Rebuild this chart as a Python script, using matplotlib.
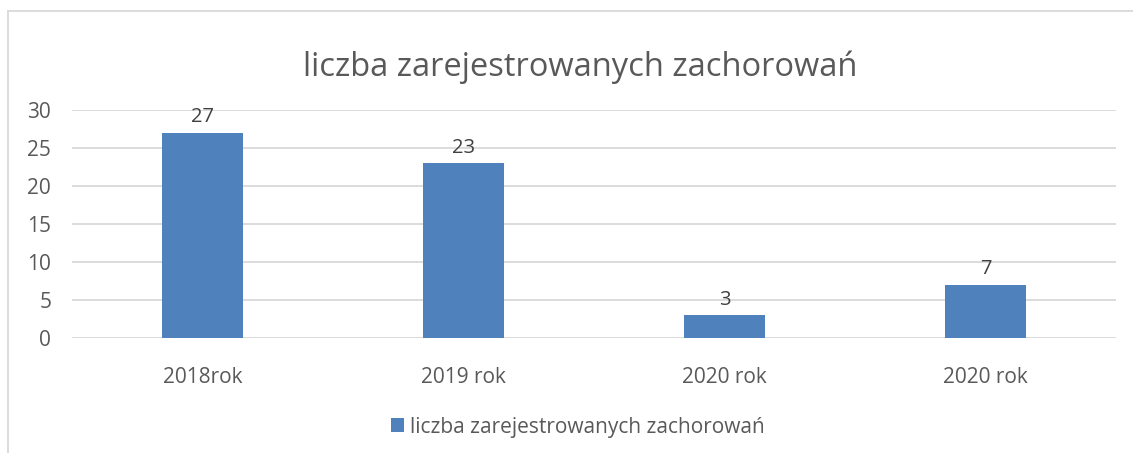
import matplotlib.pyplot as plt
from matplotlib.lines import Line2D

categories = ['2018rok', '2019 rok', '2020 rok', '2020 rok']
values = [27, 23, 3, 7]
series_name = 'liczba zarejestrowanych zachorowań'
yticks = [0, 5, 10, 15, 20, 25, 30]

plt.rcParams['font.family'] = ['Open Sans', 'DejaVu Sans']
text_col = '#595959'
bar_col = '#4F81BD'

fig = plt.figure(figsize=(11.33, 4.53), dpi=100)
ax = fig.add_axes([72 / 1133, 1 - 338 / 453, (1116 - 72) / 1133, (338 - 110) / 453])

x = range(len(categories))
bars = ax.bar(x, values, width=0.314, color=bar_col, label=series_name, zorder=3)
for b, v in zip(bars, values):
    ax.annotate(str(v), (b.get_x() + b.get_width() / 2, v), xytext=(0, 4),
                textcoords='offset points', ha='center', va='bottom',
                fontsize=14.5, color='#404040')

ax.set_xlim(-0.5, len(categories) - 0.5)
ax.set_ylim(0, 30)
ax.set_yticks(yticks)
ax.set_xticks(list(x))
ax.set_xticklabels(categories)
ax.tick_params(axis='both', length=0, labelsize=15, labelcolor=text_col)
ax.tick_params(axis='x', pad=21)
ax.tick_params(axis='y', pad=15)
for lab in ax.get_yticklabels():
    lab.set_horizontalalignment('right')
ax.grid(axis='y', color='#d9d9d9', linewidth=1.3, zorder=0)
for s in ax.spines.values():
    s.set_visible(False)

fig.text(0.512, 1 - 67 / 453, series_name, ha='center', va='center',
         fontsize=23.5, color=text_col)

leg = fig.legend(handles=[bars], labels=[series_name], loc='center',
                 bbox_to_anchor=(0.51, 1 - 427 / 453), frameon=False,
                 fontsize=15, handlelength=0.65, handleheight=0.65,
                 handletextpad=0.3)
for t in leg.get_texts():
    t.set_color(text_col)

# chart border (left and top edges visible)
fig.add_artist(Line2D([8 / 1133, 8 / 1133], [0, 1 - 11 / 453],
                      transform=fig.transFigure, color='#d9d9d9', lw=1.3))
fig.add_artist(Line2D([8 / 1133, 1], [1 - 11 / 453, 1 - 11 / 453],
                      transform=fig.transFigure, color='#d9d9d9', lw=1.3))

fig.savefig('out.png', dpi=100)
